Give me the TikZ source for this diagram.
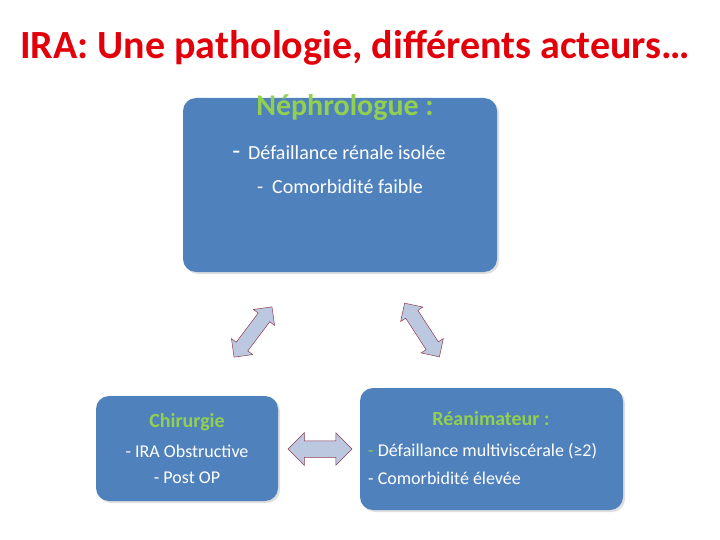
\documentclass[tikz,border=0pt]{standalone}
\usepackage{fontspec}
\setmainfont{Carlito}
\usetikzlibrary{shapes.arrows,shadows}
\definecolor{boxblue}{RGB}{79,129,189}
\definecolor{hdgreen}{RGB}{146,208,80}
\definecolor{titlered}{RGB}{226,0,10}
\definecolor{arrowfill}{RGB}{188,199,224}
\definecolor{arrowdraw}{RGB}{140,60,80}
\tikzset{
  card/.style={draw=none, fill=boxblue, rounded corners=13pt, inner sep=0pt,
    drop shadow={shadow xshift=2pt, shadow yshift=-2pt, opacity=0.25}},
  hdr/.style={text=hdgreen, font=\bfseries, inner sep=0pt},
  txt/.style={text=white, inner sep=0pt},
  dbl/.style={double arrow, fill=arrowfill, draw=arrowdraw, line width=0.5pt,
    inner xsep=0pt, text height=0pt, text depth=0pt}
}
\begin{document}
\begin{tikzpicture}[x=1pt,y=-1pt]
\useasboundingbox (0,0) rectangle (720,540);
% title
\node[text=titlered, font=\fontsize{40}{44}\selectfont\bfseries, inner sep=0pt] (title) at (355,48) {IRA: Une pathologie, différents acteurs…};
% boxes
\node[card, minimum width=314pt, minimum height=174pt] (neph) at (340,185) {};
\node[card, minimum width=182pt, minimum height=105pt] (chir) at (187,448.5) {};
\node[card, minimum width=263pt, minimum height=122pt] (rea) at (491.5,449) {};
% Nephrologue text
\node[hdr, font=\fontsize{30}{32}\selectfont\bfseries] (nh) at (345,108) {Néphrologue :};
\node[txt, font=\fontsize{20}{22}\selectfont] (n1) at (339,153) {{\fontsize{26}{26}\selectfont -}\, Défaillance rénale isolée};
\node[txt, font=\fontsize{20}{22}\selectfont] (n2) at (340,187) {-\ \ Comorbidité faible};
% Chirurgie text
\node[hdr, font=\fontsize{20}{22}\selectfont\bfseries] (ch) at (187,422) {Chirurgie};
\node[txt, font=\fontsize{18}{20}\selectfont] (c1) at (187,451) {- IRA Obstructive};
\node[txt, font=\fontsize{18}{20}\selectfont] (c2) at (187,478) {- Post OP};
% Reanimateur text
\node[hdr, font=\fontsize{20}{22}\selectfont\bfseries] (rh) at (491,419) {Réanimateur :};
\node[txt, font=\fontsize{18}{20}\selectfont, anchor=west] (r1) at (368,451) {\textcolor{hdgreen}{-} Défaillance multiviscérale (≥2)};
\node[txt, font=\fontsize{18}{20}\selectfont, anchor=west] (r2) at (368,478) {- Comorbidité élevée};
% double arrows
\node[dbl, inner ysep=8pt, minimum height=64pt, double arrow head extend=8pt] (ah) at (320,449) {};
\node[dbl, inner ysep=7pt, minimum height=63pt, double arrow head extend=6pt, rotate=53] (al) at (253,332) {};
\node[dbl, inner ysep=7pt, minimum height=64pt, double arrow head extend=6pt, rotate=-57] (ar) at (422,330) {};
\end{tikzpicture}
\end{document}
